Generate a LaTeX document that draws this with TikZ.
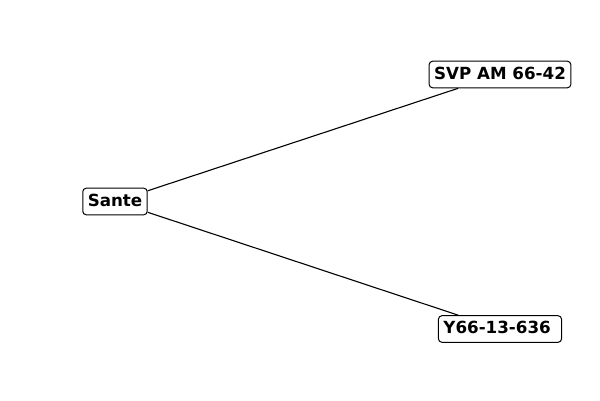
\documentclass[tikz,border=0pt]{standalone}
\usepackage{fontspec}
\setmainfont{DejaVu Sans}
\begin{document}
\begin{tikzpicture}[x=1pt,y=-1pt,
  lbl/.style={draw=black, line width=1pt, fill=white, rounded corners=3.5pt,
    font=\fontsize{16.7}{20}\selectfont\bfseries, inner xsep=5pt, inner ysep=5pt,
    text height=12.8pt, text depth=3.8pt},
  edge/.style={draw=black, line width=1.1pt}]
\useasboundingbox (0,0) rectangle (600,400);
\node[lbl] (sante) at (115,201.5) {Sante};
\node[lbl] (svp) at (500,74.5) {SVP AM 66-42};
\node[lbl] (y66) at (500,329) {Y66-13-636\hspace*{0.348em}};
\draw[edge] (sante) -- (svp);
\draw[edge] (sante) -- (y66);
\end{tikzpicture}
\end{document}
